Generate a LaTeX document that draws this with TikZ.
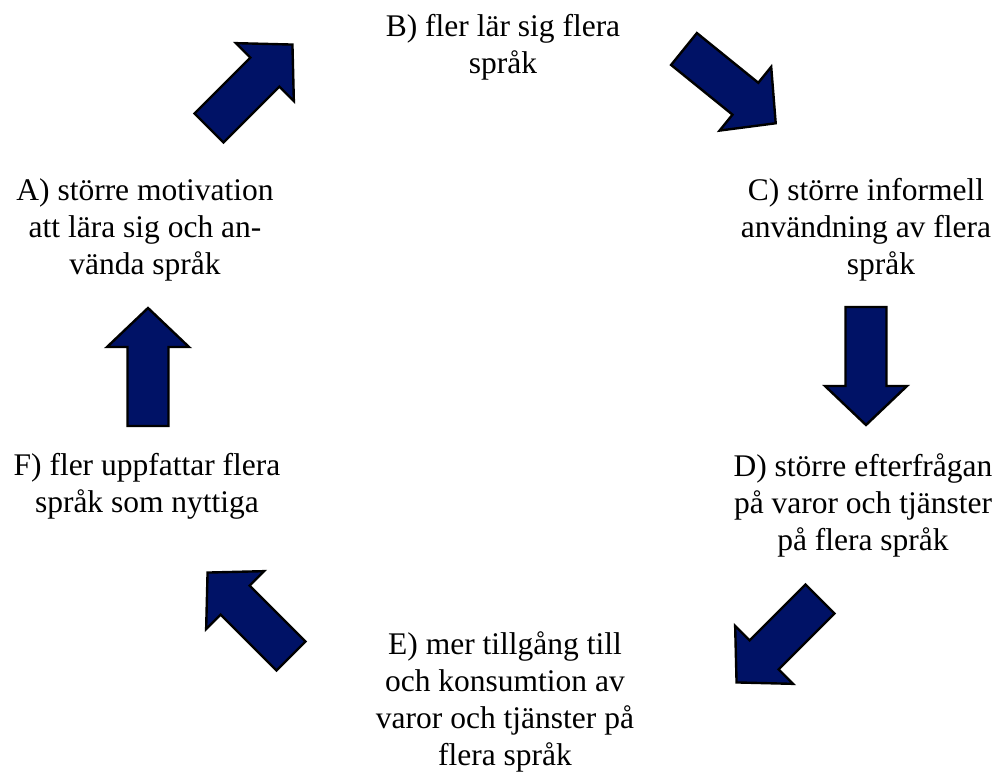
\documentclass[tikz,border=0pt]{standalone}
\usepackage{fontspec}
\setmainfont{Liberation Serif}
\definecolor{navyfill}{RGB}{0,18,102}
% strut on the first line fixes the distance from the node top to the first baseline
\newcommand{\firstline}{\rule[-8pt]{0pt}{29pt}}
\begin{document}
\begin{tikzpicture}[x=1pt,y=-1pt,
  lbl/.style={align=center, inner sep=0pt, anchor=north,
    font=\fontsize{31.5}{37}\selectfont},
  bigarrow/.pic={
    \draw[fill=navyfill, draw=black, line width=2.4pt, line join=miter]
      (0,-20.5) -- (79,-20.5) -- (79,-41) -- (118,0) -- (79,41)
      -- (79,20.5) -- (0,20.5) -- cycle;
  }]
\useasboundingbox (0,0) rectangle (1002,778);

% the six stages of the cycle
\node[lbl] (A) at (145,178) {\firstline A) större motivation\\att lära sig och an-\\vända språk};
\node[lbl] (B) at (503,14)  {\firstline B) fler lär sig flera\\språk};
\node[lbl] (C) at (866,178) {\firstline C) större informell\\användning av flera\\\hspace*{30pt}språk};
\node[lbl] (D) at (863,453) {\firstline D) större efterfrågan\\på varor och tjänster\\på flera språk};
\node[lbl] (E) at (505,631) {\firstline E) mer tillgång till\\och konsumtion av\\varor och tjänster på\\flera språk};
\node[lbl] (F) at (147,453) {\firstline F) fler uppfattar flera\\språk som nyttiga};

% block arrows between the stages (placed by tail centre, rotated to point onward)
\pic (arrAB) [rotate=45]   at (209,128) {bigarrow};
\pic (arrBC) [rotate=-39]  at (684,49)  {bigarrow};
\pic (arrCD) [rotate=-90]  at (866,307) {bigarrow};
\pic (arrDE) [rotate=-135] at (820,599) {bigarrow};
\pic (arrEF) [rotate=135]  at (291,656) {bigarrow};
\pic (arrFA) [rotate=90]   at (148,426) {bigarrow};
\end{tikzpicture}
\end{document}
